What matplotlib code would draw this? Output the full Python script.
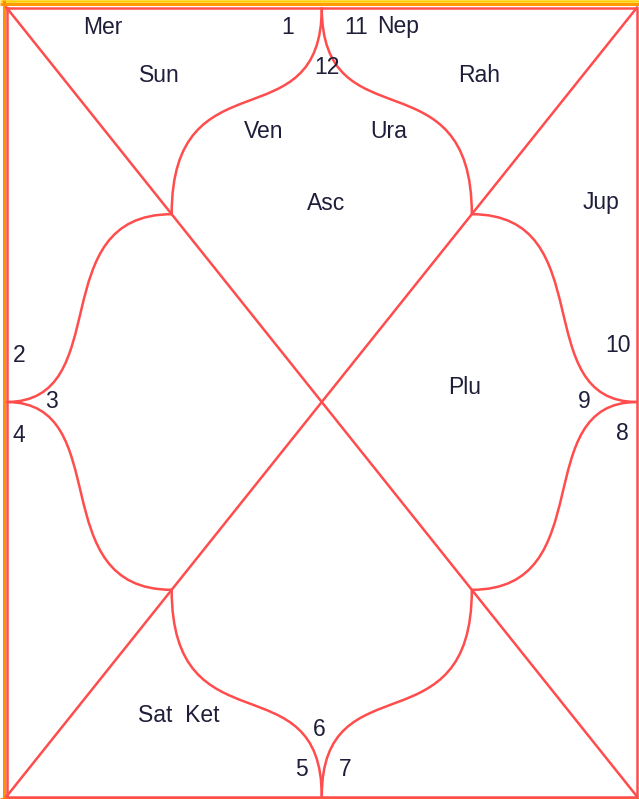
import matplotlib
matplotlib.use("Agg")
import matplotlib.pyplot as plt
from matplotlib.path import Path
from matplotlib.patches import PathPatch

# ---- chart content ----
house_numbers = ["1", "2", "3", "4", "5", "6", "7", "8", "9", "10", "11", "12"]
planet_labels = ["Mer", "Sun", "Ven", "Ura", "Rah", "Asc", "Jup", "Plu", "Nep", "Sat  Ket"]

# ---- layout (pixel coordinates of the 639x799 canvas) ----
W, H = 639, 799
left, right, top, bottom = 6.5, 637, 7.5, 796.5
quarter = 0.262            # position of the inner diamond corners along the diagonals
ctrl_near_mid = 0.667      # bezier control-handle lengths (fraction of span)
ctrl_near_quarter = 0.787

house_pos = [(288, 27), (19, 356), (51, 401), (19, 436), (301, 770), (319, 730),
             (345, 770), (622, 433), (584, 401), (618, 346), (356, 27), (327, 68)]
planet_pos = [(103, 27), (159, 75), (264, 131), (389, 131), (479, 75), (326, 203),
              (601, 203), (465, 387), (398, 27), (179, 716)]

red = "#ff4d4d"
text_color = "#1e1e3a"
font = ["Liberation Sans", "DejaVu Sans"]
fs = 16.5

fig = plt.figure(figsize=(W / 100, H / 100), dpi=100)
ax = fig.add_axes([0, 0, 1, 1])
ax.set_xlim(0, W)
ax.set_ylim(H, 0)
ax.axis("off")

# outer frame (yellow/orange band)
ax.plot([0, W], [1.2, 1.2], color="#ffd000", lw=1.8, solid_capstyle="butt")
ax.plot([0, W], [4, 4], color="#ff9a00", lw=2.2, solid_capstyle="butt")
ax.plot([4, 4], [0, H], color="#ff9000", lw=2.2, solid_capstyle="butt")
ax.plot([0, W], [798.5, 798.5], color="#ff8000", lw=2.2, solid_capstyle="butt")

# red box
ax.plot([left, right, right, left, left], [top, top, bottom, bottom, top], color=red, lw=1.8)
# diagonals
ax.plot([left, right], [top, bottom], color=red, lw=1.8)
ax.plot([left, right], [bottom, top], color=red, lw=1.8)

cx, cy = (left + right) / 2, (top + bottom) / 2
qw, qh = quarter * (right - left), quarter * (bottom - top)
q_tl = (left + qw, top + qh)
q_tr = (right - qw, top + qh)
q_bl = (left + qw, bottom - qh)
q_br = (right - qw, bottom - qh)

def s_curve(p0, p3, vertical):
    (x0, y0), (x3, y3) = p0, p3
    if vertical:
        p1 = (x0, y0 + ctrl_near_mid * (y3 - y0))
        p2 = (x3, y3 - ctrl_near_quarter * (y3 - y0))
    else:
        p1 = (x0 + ctrl_near_mid * (x3 - x0), y0)
        p2 = (x3 - ctrl_near_quarter * (x3 - x0), y3)
    path = Path([p0, p1, p2, p3], [Path.MOVETO, Path.CURVE4, Path.CURVE4, Path.CURVE4])
    ax.add_patch(PathPatch(path, fill=False, edgecolor=red, lw=1.8))

s_curve((cx, top), q_tl, True)
s_curve((cx, top), q_tr, True)
s_curve((cx, bottom), q_bl, True)
s_curve((cx, bottom), q_br, True)
s_curve((left, cy), q_tl, False)
s_curve((left, cy), q_bl, False)
s_curve((right, cy), q_tr, False)
s_curve((right, cy), q_br, False)

for lab, (x, y) in zip(house_numbers, house_pos):
    ax.text(x, y, lab, ha="center", va="center", fontsize=fs, color=text_color, family=font)
for lab, (x, y) in zip(planet_labels, planet_pos):
    ax.text(x, y, lab, ha="center", va="center", fontsize=fs, color=text_color, family=font)

fig.savefig("out.png", dpi=100)
